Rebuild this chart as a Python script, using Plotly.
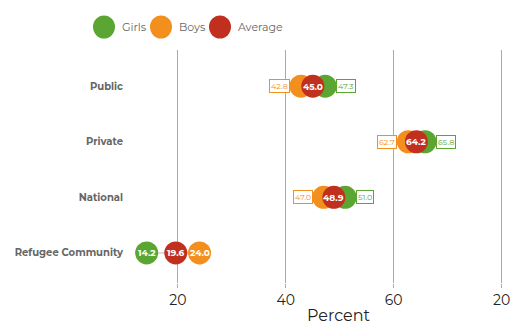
import plotly.graph_objects as go

categories = ["Public", "Private", "National", "Refugee Community"]
girls = [47.3, 65.8, 51.0, 14.2]
boys = [42.8, 62.7, 47.0, 24.0]
average = [45.0, 64.2, 48.9, 19.6]
tick_vals = [20, 40, 60, 80]
tick_text = ["20", "40", "60", "20"]
series_names = ["Girls", "Boys", "Average"]

GREEN = "#5ba632"
ORANGE = "#f3901d"
RED = "#c1301f"
COLORS = [GREEN, ORANGE, RED]
FONT = "Montserrat, Lato, 'Open Sans', sans-serif"

W, H = 512, 326
L, R, T, B = 124, 5, 50, 43
PW, PH = W - L - R, H - T - B

def px_x(p):
    return (p - L) / PW

def px_y(p):
    return (H - B - p) / PH

fig = go.Figure()

# connector lines
cx, cy = [], []
for c, g, b, a in zip(categories, girls, boys, average):
    cx += [min(g, b, a), max(g, b, a), None]
    cy += [c, c, None]
fig.add_trace(go.Scatter(x=cx, y=cy, mode="lines", line=dict(color="#dddddd", width=2),
                         showlegend=False, hoverinfo="skip"))

for vals, name, color in zip((girls, boys, average), series_names, COLORS):
    fig.add_trace(go.Scatter(x=vals, y=categories, mode="markers", name=name,
                             showlegend=False,
                             marker=dict(size=23, color=color, line=dict(width=0))))

annotations = []
for c, g, b, a in zip(categories, girls, boys, average):
    annotations.append(dict(x=a, y=c, text=f"<b>{a:.1f}</b>", showarrow=False,
                            font=dict(color="white", size=9, family=FONT)))
    overlap = abs(g - b) < 8
    for v, col in ((g, GREEN), (b, ORANGE)):
        if overlap:
            right = v >= a
            annotations.append(dict(x=v, y=c, text=f"{v:.1f}", showarrow=False,
                                    xanchor="left" if right else "right",
                                    xshift=11 if right else -11,
                                    font=dict(color=col, size=8, family=FONT),
                                    bgcolor="white", bordercolor=col, borderwidth=1, borderpad=1))
        else:
            annotations.append(dict(x=v, y=c, text=f"<b>{v:.1f}</b>", showarrow=False,
                                    font=dict(color="white", size=9, family=FONT)))

# manual legend (large circles like the reference)
shapes = []
legend_centers = [104, 161, 220]
for cxp, name, color in zip(legend_centers, series_names, COLORS):
    shapes.append(dict(type="circle", xref="paper", yref="paper",
                       x0=px_x(cxp - 11), x1=px_x(cxp + 11),
                       y0=px_y(27 + 11.5), y1=px_y(27 - 11.5),
                       fillcolor=color, line=dict(width=0)))
    annotations.append(dict(xref="paper", yref="paper", x=px_x(cxp + 16), y=px_y(27),
                            xanchor="left", yanchor="middle", text=name, showarrow=False,
                            font=dict(size=11, color="#666666", family=FONT)))

# x-axis title (offset to the right as in the reference)
annotations.append(dict(xref="paper", yref="paper", x=px_x(339), y=px_y(315),
                        xanchor="center", yanchor="middle", text="Percent", showarrow=False,
                        font=dict(size=16, color="#222222", family=FONT)))

fig.update_layout(
    width=W, height=H,
    margin=dict(l=L, r=R, t=T, b=B, autoexpand=False),
    plot_bgcolor="white", paper_bgcolor="white",
    font=dict(family=FONT, color="#666666"),
    showlegend=False,
    annotations=annotations,
    shapes=shapes,
    xaxis=dict(range=[10, 81], tickvals=tick_vals, ticktext=tick_text, automargin=False,
               showgrid=True, gridcolor="#aaaaaa", gridwidth=1, zeroline=False,
               ticks="outside", ticklen=4, tickcolor="#aaaaaa",
               tickfont=dict(size=14, color="#222222")),
    yaxis=dict(type="category", categoryorder="array", automargin=False,
               categoryarray=list(reversed(categories)),
               tickvals=list(reversed(categories)),
               ticktext=[f"<b>{c}</b>" for c in reversed(categories)],
               range=[-0.54, 3.65], showgrid=False, zeroline=False,
               tickfont=dict(size=10, color="#666666"), ticks=""),
)

fig.write_html(
    "out.html",
    config={"displayModeBar": False},
    post_script="document.body.style.margin='0';document.body.style.overflow='hidden';",
)
